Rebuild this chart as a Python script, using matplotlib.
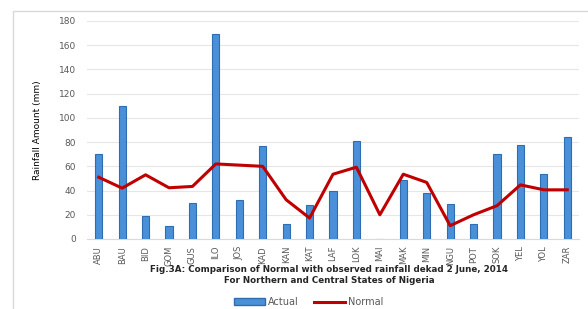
import numpy as np
import matplotlib.pyplot as plt
from matplotlib.patches import Rectangle
from matplotlib.lines import Line2D
from matplotlib.patches import Patch

stations = ["ABU", "BAU", "BID", "GOM", "GUS", "ILO", "JOS", "KAD", "KAN", "KAT", "LAF",
            "LOK", "MAI", "MAK", "MIN", "NGU", "POT", "SOK", "YEL", "YOL", "ZAR"]
actual = [70, 110, 19, 10.5, 30, 169, 32, 77, 12, 28, 39.5,
          81, 0, 49, 38, 29, 12, 70, 78, 54, 84]
normal = [51, 42, 53, 42.3, 43.4, 62, 61, 60, 32.4, 17.3, 53.5,
          59.3, 20, 53.5, 46.7, 11, 20, 27.5, 44.7, 40.6, 40.6]
yticks = np.arange(0, 181, 20)

fig = plt.figure(figsize=(5.88, 3.09), dpi=100)
# light frame around the chart area
fig.patches.append(Rectangle((13 / 588, -0.1), 1.1, 1 - 11 / 309 + 0.1,
                             transform=fig.transFigure, fill=False,
                             edgecolor="#d9d9d9", linewidth=1.0))

ax = fig.add_axes([87 / 588, 1 - 239 / 309, 492 / 588, 218 / 309])
x = np.arange(len(stations))
ax.bar(x, actual, width=0.3, color="#4a90d9", edgecolor="#2f6db0",
       linewidth=0.8, zorder=3, label="Actual")
ax.plot(x, normal, color="#c00000", linewidth=2.2, zorder=4, label="Normal")

ax.set_xlim(-0.5, len(stations) - 0.5)
ax.set_ylim(0, 180)
ax.set_yticks(yticks)
ax.set_xticks(x, stations, rotation=90)
ax.tick_params(axis="y", length=0, labelsize=6.5, labelcolor="#595959", pad=8)
ax.tick_params(axis="x", length=0, labelsize=6, labelcolor="#595959", pad=5)
for lbl in ax.get_xticklabels():
    lbl.set_family(["Liberation Sans Narrow", "DejaVu Sans"])
ax.grid(axis="y", color="#e6e6e6", linewidth=0.8, zorder=0)
for s in ["top", "right", "left"]:
    ax.spines[s].set_visible(False)
ax.spines["bottom"].set_color("#d9d9d9")
ax.set_ylabel("Rainfall Amount (mm)", fontsize=6.5, labelpad=12,
              family=["Liberation Sans Narrow", "DejaVu Sans"])

fig.text(0.56, 1 - 275 / 309,
         "Fig.3A: Comparison of Normal with observed rainfall dekad 2 June, 2014\n"
         "For Northern and Central States of Nigeria",
         ha="center", va="center", fontsize=6.3, fontweight="bold",
         color="#262626", linespacing=1.25)

handles = [Patch(facecolor="#4a90d9", edgecolor="#2f6db0"),
           Line2D([0], [0], color="#c00000", linewidth=2.2)]
fig.legend(handles, ["Actual", "Normal"], loc="center", ncol=2,
           bbox_to_anchor=(0.525, 1 - 302 / 309), frameon=False,
           fontsize=7, labelcolor="#595959", handlelength=3.2,
           handleheight=0.6, columnspacing=1.5, handletextpad=0.3)

fig.savefig("out.png", dpi=100)
